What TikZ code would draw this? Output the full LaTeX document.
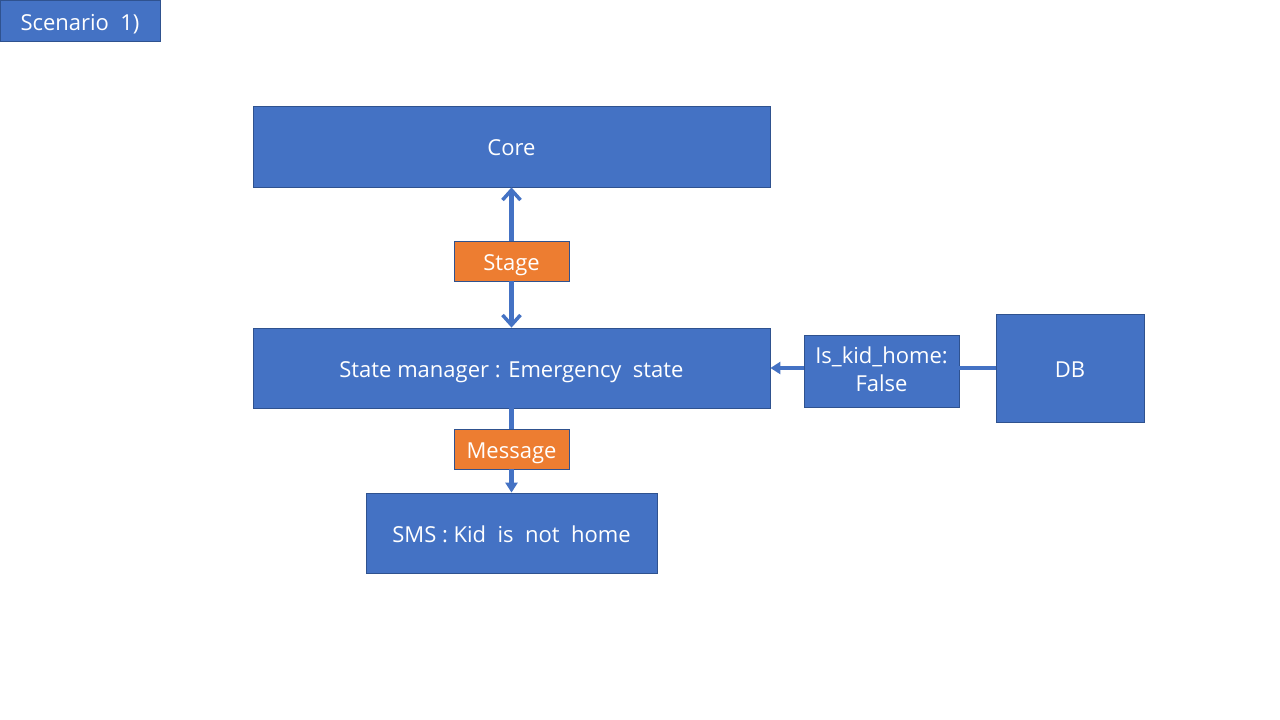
\documentclass[tikz,border=0pt]{standalone}
\usepackage{fontspec}
\setmainfont{Open Sans}
\usepackage{tikz}
\usetikzlibrary{arrows.meta, positioning}
\definecolor{boxblue}{HTML}{4472C4}
\definecolor{edgeblue}{HTML}{2F528F}
\definecolor{taborange}{HTML}{ED7D31}

\begin{document}
\begin{tikzpicture}[x=1pt, y=-1pt,
  box/.style={draw=edgeblue, line width=0.8pt, fill=boxblue, text=white,
              font=\fontsize{22}{28}\selectfont, align=center, inner sep=0pt,
              text height=22pt, text depth=4pt},
  tag/.style={box, fill=taborange},
  link/.style={draw=boxblue, line width=4.5pt},
  barb/.style={link, -{Straight Barb[length=10pt, width=18pt, line width=3.5pt]}},
  tip/.style={link, -{Triangle[length=10pt, width=12pt]}}]
\useasboundingbox (0,0) rectangle (1280,720);
%
\node[box, minimum width=160, minimum height=41] (scen) at (80,21) {Scenario \ 1)};
\node[box, minimum width=517, minimum height=81] (core) at (511.5,146.5) {Core};
\node[tag, minimum width=115, minimum height=40] (stage) at (511.5,261) {Stage};
\node[box, minimum width=517, minimum height=80] (state) at (511.5,368) {State manager : Emergency \ state};
\node[tag, minimum width=115, minimum height=40] (msg) at (511.5,449) {Message};
\node[box, minimum width=291, minimum height=80] (sms) at (511.5,533) {SMS : Kid \ is \ not \ home};
\node[box, minimum width=155, minimum height=72, text height=44pt] (kid) at (881.5,371) {Is\_kid\_home:\\False};
\node[box, minimum width=148, minimum height=108] (db) at (1070,368) {DB};
%
\draw[barb] (stage.north) -- (core.south);
\draw[barb] (stage.south) -- (state.north);
\draw[link] (state.south) -- (msg.north);
\draw[tip] (msg.south) -- (sms.north);
\draw[link] (db.west) -- (kid.east |- db.west);
\draw[tip] (kid.west |- state.east) -- (state.east);
%
\end{tikzpicture}
\end{document}
